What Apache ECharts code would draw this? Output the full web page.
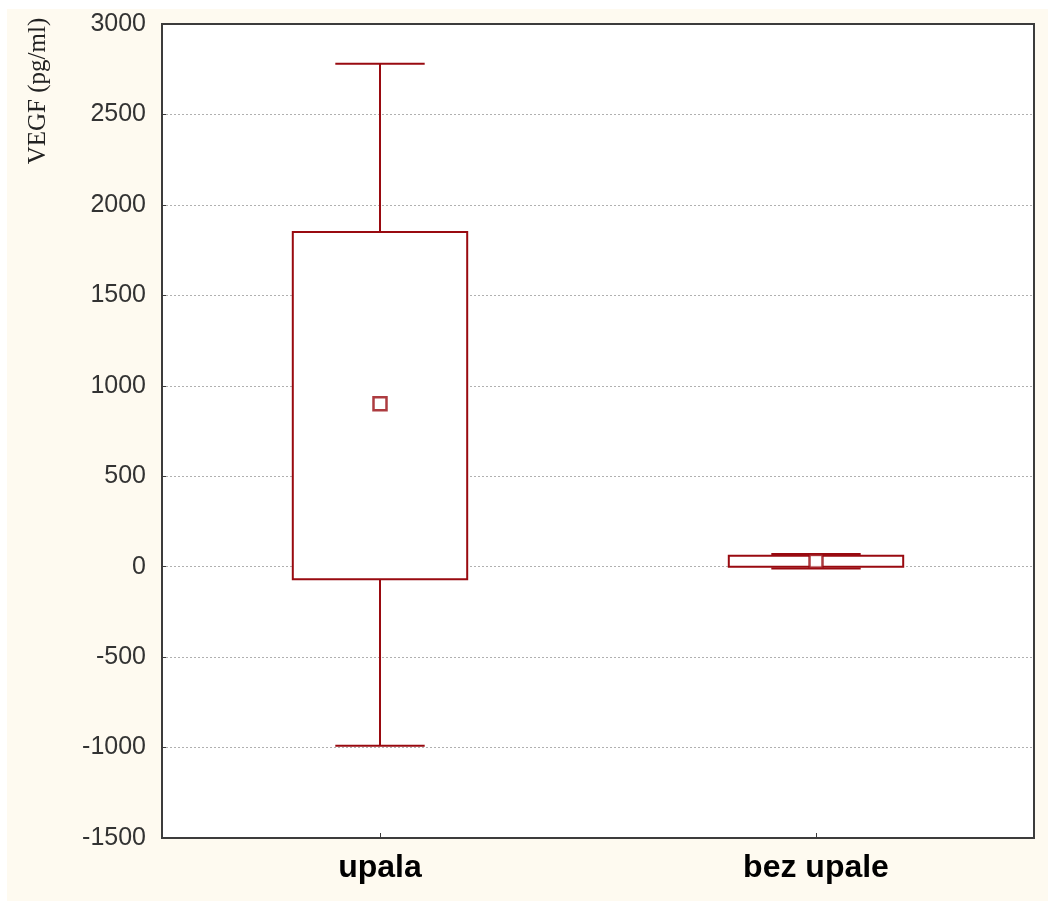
<!DOCTYPE html>
<html>
<head>
<meta charset="utf-8">
<script src="https://cdn.jsdelivr.net/npm/echarts@6/dist/echarts.min.js"></script>
<style>
html,body{margin:0;padding:0;background:#ffffff;}
#chart{position:absolute;left:7px;top:9px;width:1041px;height:892px;}
</style>
</head>
<body>
<div id="chart"></div>
<script>
var categories = ['upala', 'bez upale'];
var means = [900, 30];
var boxLow = [-70, 0];
var boxHigh = [1850, 60];
var whiskerLow = [-990, -10];
var whiskerHigh = [2780, 70];
var yTicks = { min: -1500, max: 3000, interval: 500 };

var boxColor = '#990a10';
var frameColor = '#3c3c3c';
var chart = echarts.init(document.getElementById('chart'));

var boxData = categories.map(function (c, i) {
  return [i, whiskerLow[i], boxLow[i], boxHigh[i], whiskerHigh[i]];
});
var meanData = categories.map(function (c, i) { return [i, means[i]]; });

function renderBox(params, api) {
  var idx = api.value(0);
  var band = api.size([1, 0])[0];
  var boxW = band * 0.4;
  var capW = band * 0.205;
  var pLo = api.coord([idx, api.value(1)]);
  var pQ1 = api.coord([idx, api.value(2)]);
  var pQ3 = api.coord([idx, api.value(3)]);
  var pHi = api.coord([idx, api.value(4)]);
  var x = pQ1[0];
  var st = { stroke: boxColor, lineWidth: 2, fill: null };
  return {
    type: 'group',
    children: [
      { type: 'line', shape: { x1: x, y1: pHi[1], x2: x, y2: pQ3[1] }, style: st },
      { type: 'line', shape: { x1: x, y1: pQ1[1], x2: x, y2: pLo[1] }, style: st },
      { type: 'line', shape: { x1: x - capW / 2, y1: pHi[1], x2: x + capW / 2, y2: pHi[1] }, style: st },
      { type: 'line', shape: { x1: x - capW / 2, y1: pLo[1], x2: x + capW / 2, y2: pLo[1] }, style: st },
      { type: 'rect', shape: { x: x - boxW / 2, y: pQ3[1], width: boxW, height: pQ1[1] - pQ3[1] },
        style: { stroke: boxColor, lineWidth: 2, fill: '#ffffff' } }
    ]
  };
}

chart.setOption({
  backgroundColor: '#fefaf0',
  animation: false,
  grid: {
    left: 155, right: 14, top: 15, bottom: 63,
    show: true, backgroundColor: '#ffffff', borderColor: frameColor, borderWidth: 2
  },
  xAxis: {
    type: 'category',
    data: categories,
    axisLine: { show: true, onZero: false, lineStyle: { color: frameColor, width: 2 } },
    axisTick: { show: true, inside: true, length: 5, alignWithLabel: true, lineStyle: { color: frameColor, width: 1 } },
    axisLabel: { fontFamily: 'Liberation Sans, Arial, sans-serif', fontWeight: 'bold', fontSize: 32, color: '#000000', margin: 14 },
    splitLine: { show: false }
  },
  yAxis: {
    type: 'value',
    min: yTicks.min, max: yTicks.max, interval: yTicks.interval,
    axisLine: { show: true, lineStyle: { color: frameColor, width: 2 } },
    axisTick: { show: true, inside: true, length: 4, lineStyle: { color: frameColor, width: 1 } },
    axisLabel: {
      fontFamily: 'Liberation Sans, Arial, sans-serif', fontSize: 25, color: '#333333', margin: 16,
      formatter: function (v) { return String(v); }
    },
    splitLine: { show: true, showMinLine: false, showMaxLine: false, lineStyle: { color: '#b0b0b0', type: [2, 2], width: 1 } }
  },
  graphic: [{
    type: 'text',
    x: 31, y: 82,
    rotation: Math.PI / 2,
    style: {
      text: 'VEGF (pg/ml)',
      font: '25px "Liberation Serif", "Times New Roman", serif',
      fill: '#222222',
      align: 'center',
      verticalAlign: 'middle'
    }
  }],
  series: [
    {
      type: 'custom',
      renderItem: renderBox,
      encode: { x: 0, y: [1, 2, 3, 4] },
      data: boxData,
      z: 2
    },
    {
      type: 'scatter',
      data: meanData,
      symbol: 'rect',
      symbolSize: 13,
      itemStyle: { color: '#ffffff', borderColor: boxColor, borderWidth: 2.5 },
      z: 3
    }
  ]
});
</script>
</body>
</html>
